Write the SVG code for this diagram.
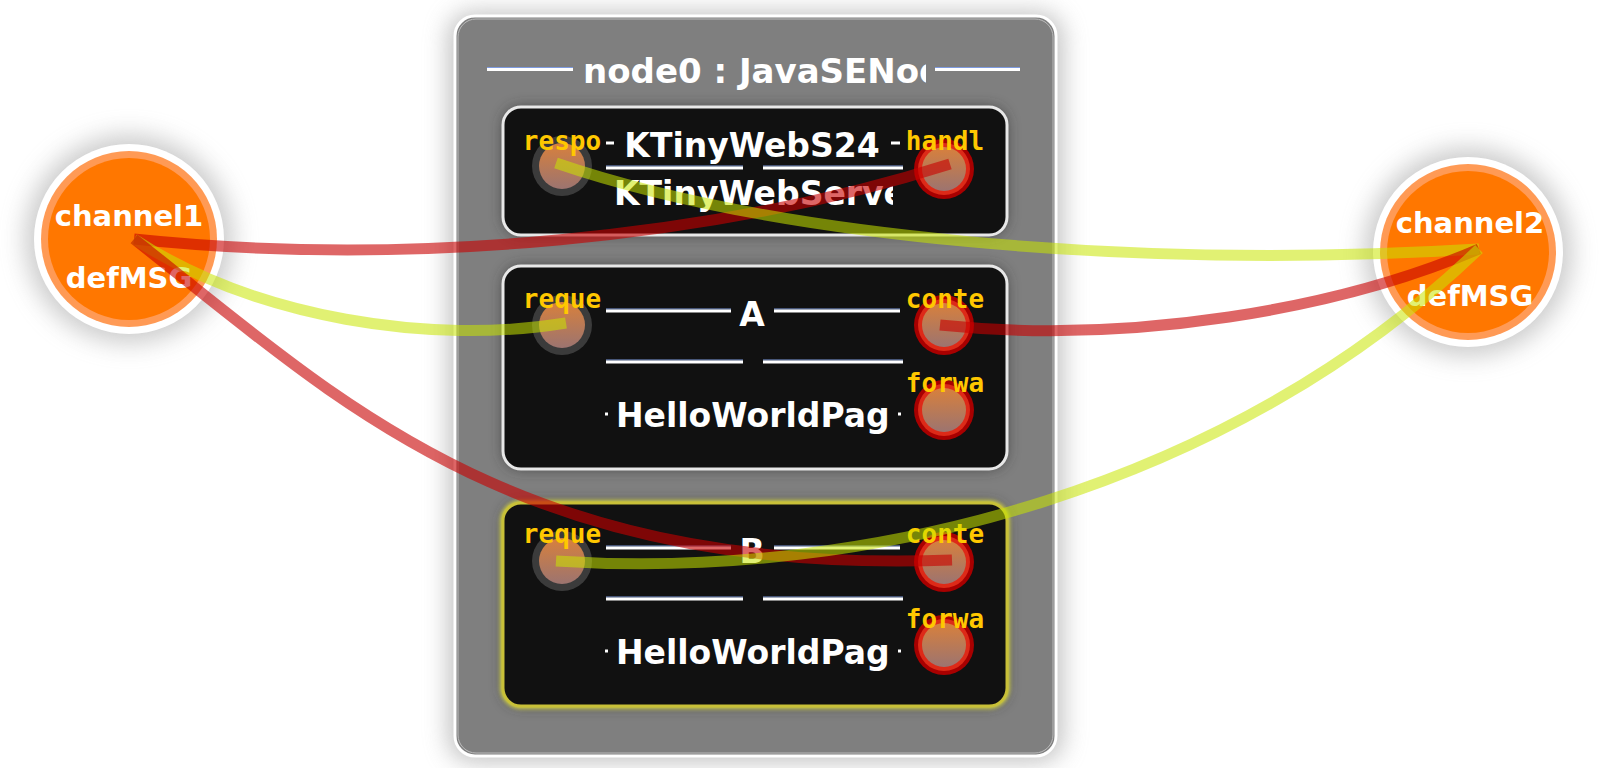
<svg xmlns="http://www.w3.org/2000/svg" width="1614" height="768" viewBox="0 0 1614 768">
<defs>
<style>
.t{font-family:"DejaVu Sans","Liberation Sans",sans-serif;font-weight:bold;fill:#fff}
.pl{font-family:"DejaVu Sans Mono","Liberation Mono",monospace;font-weight:bold;font-size:26px;fill:#ffc800}
.hw{stroke:#fff;stroke-width:3}
.hb{stroke:#7e9be0;stroke-width:1.2}
.box{fill:#111;stroke:#e8e8e8;stroke-width:3}
.red{fill:none;stroke:#c80000;stroke-opacity:0.6;stroke-width:11}
.yel{fill:none;stroke:#c8e600;stroke-opacity:0.55;stroke-width:11}
</style>
<linearGradient id="pg" x1="0" y1="0" x2="0" y2="1">
<stop offset="0" stop-color="#d8803c"/>
<stop offset="1" stop-color="#9c7470"/>
</linearGradient>
<filter id="glow" x="-30%" y="-30%" width="160%" height="160%"><feGaussianBlur stdDeviation="12"/></filter>
<filter id="bsh" x="-10%" y="-20%" width="120%" height="140%"><feGaussianBlur stdDeviation="7"/></filter>
<filter id="yg" x="-5%" y="-10%" width="110%" height="120%"><feGaussianBlur stdDeviation="2"/></filter>
<clipPath id="c0"><rect x="583" y="40" width="343" height="60"/></clipPath>
<clipPath id="c1"><rect x="606" y="170" width="287" height="50"/></clipPath>
<clipPath id="c2"><rect x="606" y="390" width="282" height="50"/></clipPath>
<clipPath id="c3"><rect x="606" y="627" width="282" height="50"/></clipPath>
</defs>
<rect width="1614" height="768" fill="#fff"/>

<g id="node0">
<rect x="448" y="12" width="615" height="750" rx="24" fill="#9a9a9a" opacity="0.6" filter="url(#glow)"/>
<rect x="455" y="16" width="601" height="740" rx="20" fill="#7f7f7f" stroke="#fff" stroke-width="3"/>
<rect x="458" y="19" width="595" height="734" rx="18" fill="none" stroke="#bbb" stroke-width="1"/>
<line class="hb" x1="487" y1="67.5" x2="573" y2="67.5"/><line class="hw" x1="487" y1="69.5" x2="573" y2="69.5"/>
<line class="hb" x1="935" y1="67.5" x2="1020" y2="67.5"/><line class="hw" x1="935" y1="69.5" x2="1020" y2="69.5"/>
<text class="t" x="583" y="83" font-size="34" clip-path="url(#c0)">node0 : JavaSENode</text>
</g>

<g id="KTinyWebS24">
<rect x="503" y="107" width="504" height="128" rx="18" fill="#333" opacity="0.7" filter="url(#bsh)"/>
<rect class="box" x="503" y="107" width="504" height="128" rx="18"/>
<line class="hw" x1="606" y1="143" x2="614" y2="143"/><line class="hw" x1="891" y1="143" x2="900" y2="143"/>
<text class="t" x="752" y="157" font-size="33" text-anchor="middle">KTinyWebS24</text>
<line class="hb" x1="606" y1="166" x2="743" y2="166"/><line class="hw" x1="606" y1="168" x2="743" y2="168"/>
<line class="hb" x1="763" y1="166" x2="903" y2="166"/><line class="hw" x1="763" y1="168" x2="903" y2="168"/>
<text class="t" x="614" y="205" font-size="33" clip-path="url(#c1)">KTinyWebServer</text>
<g id="KTinyWebS24-respo"><circle cx="562" cy="166" r="30" fill="#464646" opacity="0.8"/><circle cx="562" cy="166" r="23" fill="url(#pg)"/></g>
<g id="KTinyWebS24-handl"><circle cx="944" cy="169" r="30" fill="#a80000"/><circle cx="944" cy="169" r="26" fill="#dd2a18"/><circle cx="944" cy="169" r="22" fill="url(#pg)"/></g>
<text class="pl" x="562" y="150" text-anchor="middle">respo</text>
<text class="pl" x="945" y="150" text-anchor="middle">handl</text>
</g>

<g id="A">
<rect x="503" y="266" width="504" height="203" rx="18" fill="#333" opacity="0.7" filter="url(#bsh)"/>
<rect class="box" x="503" y="266" width="504" height="203" rx="18"/>
<line class="hb" x1="606" y1="309" x2="731" y2="309"/><line class="hw" x1="606" y1="311" x2="731" y2="311"/>
<line class="hb" x1="774" y1="309" x2="900" y2="309"/><line class="hw" x1="774" y1="311" x2="900" y2="311"/>
<text class="t" x="752" y="326" font-size="33" text-anchor="middle">A</text>
<line class="hb" x1="606" y1="360" x2="743" y2="360"/><line class="hw" x1="606" y1="362" x2="743" y2="362"/>
<line class="hb" x1="763" y1="360" x2="903" y2="360"/><line class="hw" x1="763" y1="362" x2="903" y2="362"/>
<line class="hw" x1="605" y1="414" x2="608" y2="414"/><line class="hw" x1="898" y1="414" x2="901" y2="414"/>
<text class="t" x="616" y="427" font-size="33" clip-path="url(#c2)">HelloWorldPage</text>
<g id="A-reque"><circle cx="562" cy="325" r="30" fill="#464646" opacity="0.8"/><circle cx="562" cy="325" r="23" fill="url(#pg)"/></g>
<g id="A-conte"><circle cx="944" cy="325" r="30" fill="#a80000"/><circle cx="944" cy="325" r="26" fill="#dd2a18"/><circle cx="944" cy="325" r="22" fill="url(#pg)"/></g>
<g id="A-forwa"><circle cx="944" cy="410" r="30" fill="#a80000"/><circle cx="944" cy="410" r="26" fill="#dd2a18"/><circle cx="944" cy="410" r="22" fill="url(#pg)"/></g>
<text class="pl" x="562" y="308" text-anchor="middle">reque</text>
<text class="pl" x="945" y="308" text-anchor="middle">conte</text>
<text class="pl" x="945" y="392" text-anchor="middle">forwa</text>
</g>

<g id="B">
<rect x="503" y="503" width="504" height="203" rx="18" fill="#333" opacity="0.7" filter="url(#bsh)"/>
<rect x="503" y="503" width="504" height="203" rx="18" fill="none" stroke="#e0e040" stroke-width="5" filter="url(#yg)"/>
<rect x="503" y="503" width="504" height="203" rx="18" fill="#111" stroke="#c8c038" stroke-width="3"/>
<line class="hb" x1="606" y1="546" x2="731" y2="546"/><line class="hw" x1="606" y1="548" x2="731" y2="548"/>
<line class="hb" x1="774" y1="546" x2="900" y2="546"/><line class="hw" x1="774" y1="548" x2="900" y2="548"/>
<text class="t" x="752" y="563" font-size="33" text-anchor="middle">B</text>
<line class="hb" x1="606" y1="597" x2="743" y2="597"/><line class="hw" x1="606" y1="599" x2="743" y2="599"/>
<line class="hb" x1="763" y1="597" x2="903" y2="597"/><line class="hw" x1="763" y1="599" x2="903" y2="599"/>
<line class="hw" x1="605" y1="651" x2="608" y2="651"/><line class="hw" x1="898" y1="651" x2="901" y2="651"/>
<text class="t" x="616" y="664" font-size="33" clip-path="url(#c3)">HelloWorldPage</text>
<g id="B-reque"><circle cx="562" cy="561" r="30" fill="#464646" opacity="0.8"/><circle cx="562" cy="561" r="23" fill="url(#pg)"/></g>
<g id="B-conte"><circle cx="944" cy="562" r="30" fill="#a80000"/><circle cx="944" cy="562" r="26" fill="#dd2a18"/><circle cx="944" cy="562" r="22" fill="url(#pg)"/></g>
<g id="B-forwa"><circle cx="944" cy="645" r="30" fill="#a80000"/><circle cx="944" cy="645" r="26" fill="#dd2a18"/><circle cx="944" cy="645" r="22" fill="url(#pg)"/></g>
<text class="pl" x="562" y="543" text-anchor="middle">reque</text>
<text class="pl" x="945" y="543" text-anchor="middle">conte</text>
<text class="pl" x="945" y="628" text-anchor="middle">forwa</text>
</g>

<g id="channel1">
<circle cx="129" cy="239" r="104" fill="#a0a0a0" opacity="0.55" filter="url(#glow)"/>
<circle cx="129" cy="239" r="95" fill="#fff"/>
<circle cx="129" cy="239" r="88" fill="#ff9a55"/>
<circle cx="129" cy="239" r="81" fill="#ff7700"/>
<text class="t" x="129" y="226" font-size="29" text-anchor="middle">channel1</text>
<text class="t" x="129" y="288" font-size="29" text-anchor="middle">defMSG</text>
</g>

<g id="channel2">
<circle cx="1468" cy="252" r="104" fill="#a0a0a0" opacity="0.55" filter="url(#glow)"/>
<circle cx="1468" cy="252" r="95" fill="#fff"/>
<circle cx="1468" cy="252" r="88" fill="#ff9a55"/>
<circle cx="1468" cy="252" r="81" fill="#ff7700"/>
<text class="t" x="1470" y="233" font-size="29" text-anchor="middle">channel2</text>
<text class="t" x="1470" y="306" font-size="29" text-anchor="middle">defMSG</text>
</g>

<g id="connectors">
<path class="red" d="M134,239 C412,268 721,237 950,164"/>
<path class="yel" d="M556,163 C772,237 1132,270 1479,249"/>
<path class="yel" d="M134,239 C257,319 432,345 566,323"/>
<path class="red" d="M940,325 C1132,345 1339,309 1479,249"/>
<path class="red" d="M134,239 C340,401 515,576 952,560"/>
<path class="yel" d="M556,561 C875,582 1235,484 1479,249"/>
</g>
</svg>
